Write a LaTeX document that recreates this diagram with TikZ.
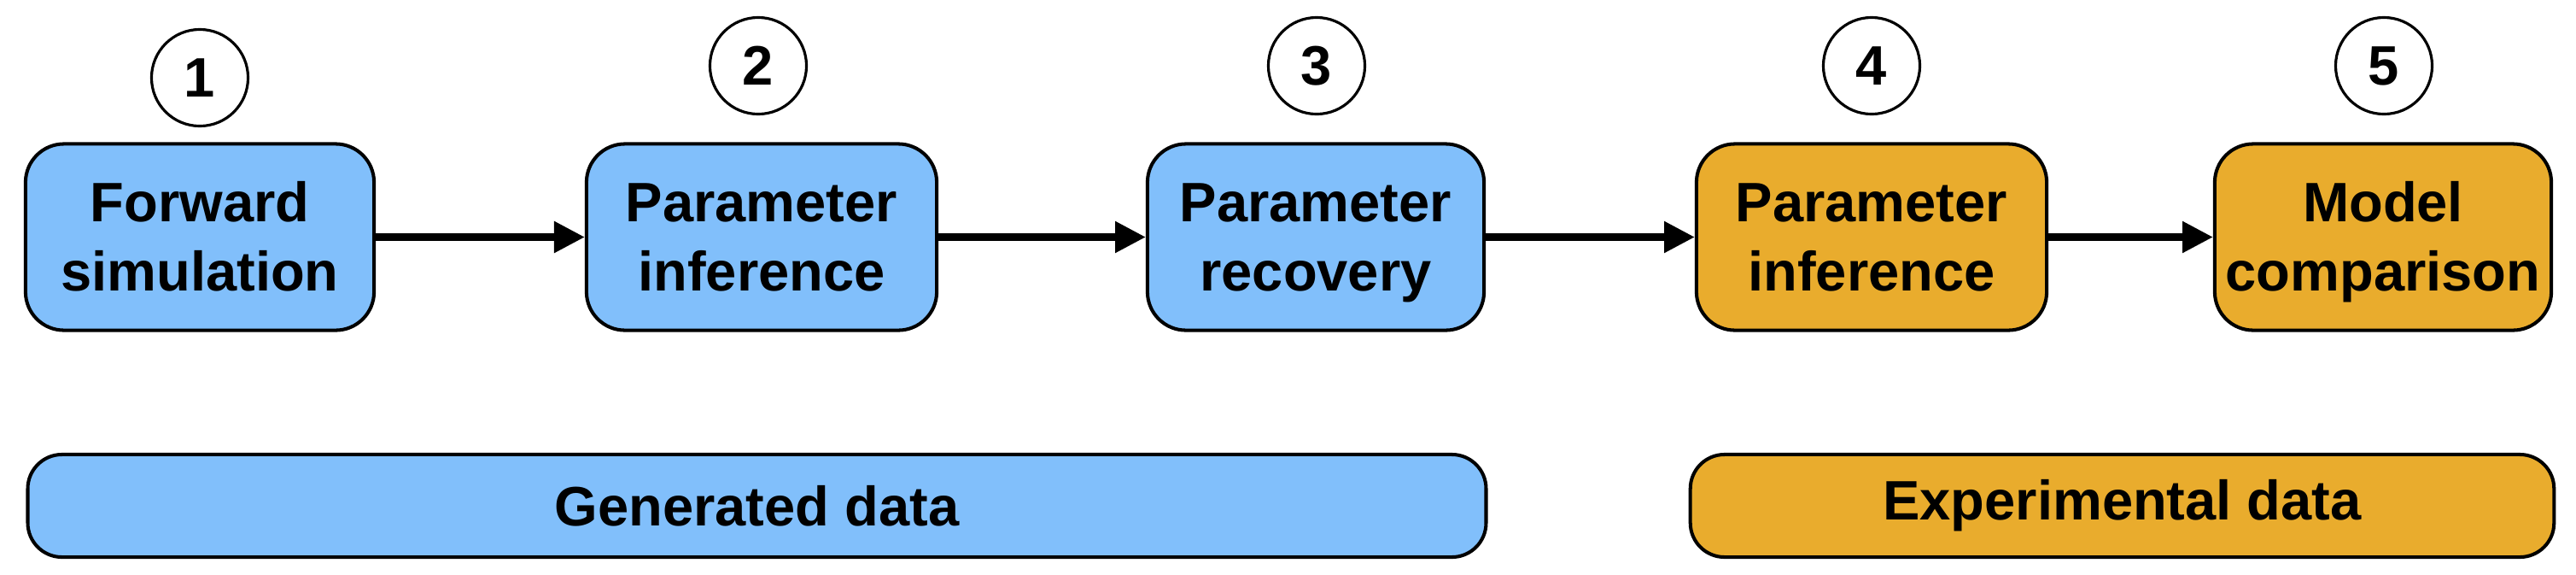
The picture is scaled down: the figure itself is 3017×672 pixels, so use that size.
\documentclass[tikz,border=0pt]{standalone}
\usepackage{fontspec}
\setmainfont{Liberation Sans}
\usetikzlibrary{arrows.meta}
\definecolor{bblue}{RGB}{129,191,251}
\definecolor{borange}{RGB}{233,172,45}
\newcommand\lnstrut{\rule[-4pt]{0pt}{21pt}}
\begin{document}
\begin{tikzpicture}[x=0.01cm,y=-0.01cm,
  txt/.style={font=\fontsize{18.5}{23}\selectfont\bfseries},
  stepbox/.style={txt, draw=black, line width=1.15pt, rounded corners=0.45cm,
    minimum height=2.18cm, align=center, inner sep=0pt},
  num/.style={circle, draw=black, line width=0.9pt, minimum size=1.13cm, inner sep=0pt,
    font=\fontsize{18.5}{22}\selectfont\bfseries},
  bar/.style={txt, draw=black, line width=1.15pt, rounded corners=0.4cm,
    minimum height=1.2cm, inner sep=0pt},
  flow/.style={line width=2.3pt, -{Triangle[length=10.2pt,width=10pt]}}
]
\useasboundingbox (0,0) rectangle (3017,672);

\node[stepbox, fill=bblue, minimum width=4.08cm] (b1) at (234,277.5) {Forward\lnstrut\\simulation\lnstrut};
\node[stepbox, fill=bblue, minimum width=4.10cm] (b2) at (892,277.5) {Parameter\lnstrut\\inference\lnstrut};
\node[stepbox, fill=bblue, minimum width=3.94cm] (b3) at (1541,277.5) {Parameter\lnstrut\\recovery\lnstrut};
\node[stepbox, fill=borange, minimum width=4.10cm] (b4) at (2192,277.5) {Parameter\lnstrut\\inference\lnstrut};
\node[stepbox, fill=borange, minimum width=3.94cm] (b5) at (2791,277.5) {Model\lnstrut\\comparison\lnstrut};

\node[num] (n1) at (234,91) {1};
\node[num] (n2) at (888,77) {2};
\node[num] (n3) at (1542,77) {3};
\node[num] (n4) at (2192,77) {4};
\node[num] (n5) at (2792,77) {5};

\draw[flow] (b1) -- (b2);
\draw[flow] (b2) -- (b3);
\draw[flow] (b3) -- (b4);
\draw[flow] (b4) -- (b5);

\node[bar, fill=bblue, minimum width=17.07cm] (g) at (886.5,592) {Generated data};
\node[bar, fill=borange, minimum width=10.11cm] (e) at (2485.5,592) {Experimental data};
\end{tikzpicture}
\end{document}
